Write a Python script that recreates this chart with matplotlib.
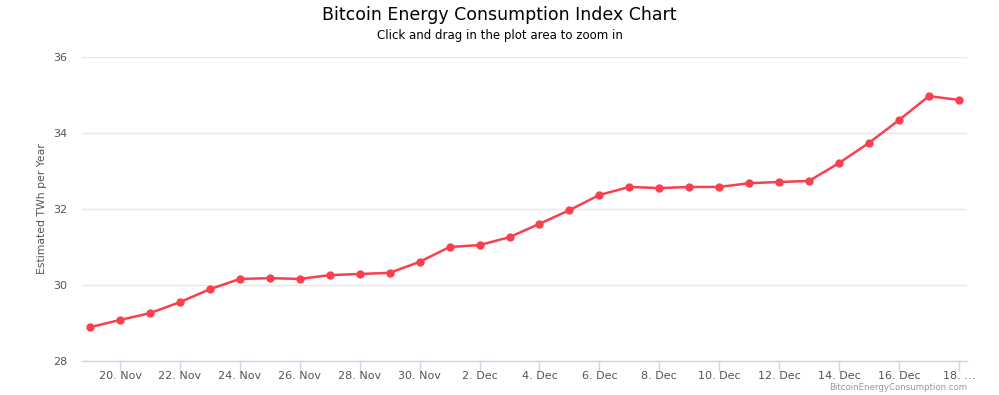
import matplotlib
matplotlib.use("Agg")
import matplotlib.pyplot as plt
import numpy as np
import pandas as pd

dates = pd.date_range("2017-11-19", "2017-12-18", freq="D")
values = [28.89, 29.08, 29.26, 29.55, 29.89, 30.16, 30.18, 30.16, 30.26, 30.29,
          30.32, 30.61, 31.00, 31.05, 31.26, 31.61, 31.97, 32.37, 32.58, 32.55,
          32.58, 32.58, 32.68, 32.71, 32.74, 33.21, 33.74, 34.34, 34.97, 34.87]
tick_dates = pd.date_range("2017-11-20", "2017-12-18", freq="2D")
tick_labels = ["20. Nov", "22. Nov", "24. Nov", "26. Nov", "28. Nov", "30. Nov",
               "2. Dec", "4. Dec", "6. Dec", "8. Dec", "10. Dec", "12. Dec",
               "14. Dec", "16. Dec", "18. …"]
y_ticks = [28, 30, 32, 34, 36]

plt.rcParams['font.family'] = ['DejaVu Sans']
W, H = 999, 395
fig = plt.figure(figsize=(W/100, H/100), dpi=100)
L, R, B, T = 82, 967, 361, 57
ax = fig.add_axes([L/W, 1 - B/H, (R-L)/W, (B-T)/H])

x = np.array([(d - dates[0]).days for d in dates])
xt = np.array([(d - dates[0]).days for d in tick_dates])

ax.plot(x, values, color='#f9404f', lw=1.8, marker='o', ms=6,
        markeredgewidth=0, zorder=3, solid_capstyle='round')

ax.set_xlim(-0.27, 29.27)
ax.set_ylim(28, 36)
ax.set_yticks(y_ticks)
ax.set_yticklabels([str(v) for v in y_ticks])
ax.set_xticks(xt)
ax.set_xticklabels(tick_labels)
ax.grid(axis='y', color='#e6e6e6', lw=1)
ax.set_axisbelow(True)
for s in ['top', 'right', 'left']:
    ax.spines[s].set_visible(False)
ax.spines['bottom'].set_color('#ccd6eb')
ax.spines['bottom'].set_linewidth(1)
ax.tick_params(axis='x', colors='#ccd6eb', length=7, width=1, labelcolor='#555555',
               labelsize=8, pad=0.3)
ax.tick_params(axis='y', length=0, labelcolor='#555555', labelsize=8, pad=10.7)
ax.set_ylabel("Estimated TWh per Year", color='#555555', fontsize=7.8, labelpad=4)

fig.text(0.5, 1 - 15/H, "Bitcoin Energy Consumption Index Chart", ha='center', va='center',
         fontsize=12.5, color='#000000')
fig.text(0.5, 1 - 36/H, "Click and drag in the plot area to zoom in", ha='center', va='center',
         fontsize=8.5, color='#000000')
fig.text(967/W, 1 - 387/H, "BitcoinEnergyConsumption.com", ha='right', va='center',
         fontsize=6.2, color='#999999')

fig.savefig("out.png", dpi=100)
